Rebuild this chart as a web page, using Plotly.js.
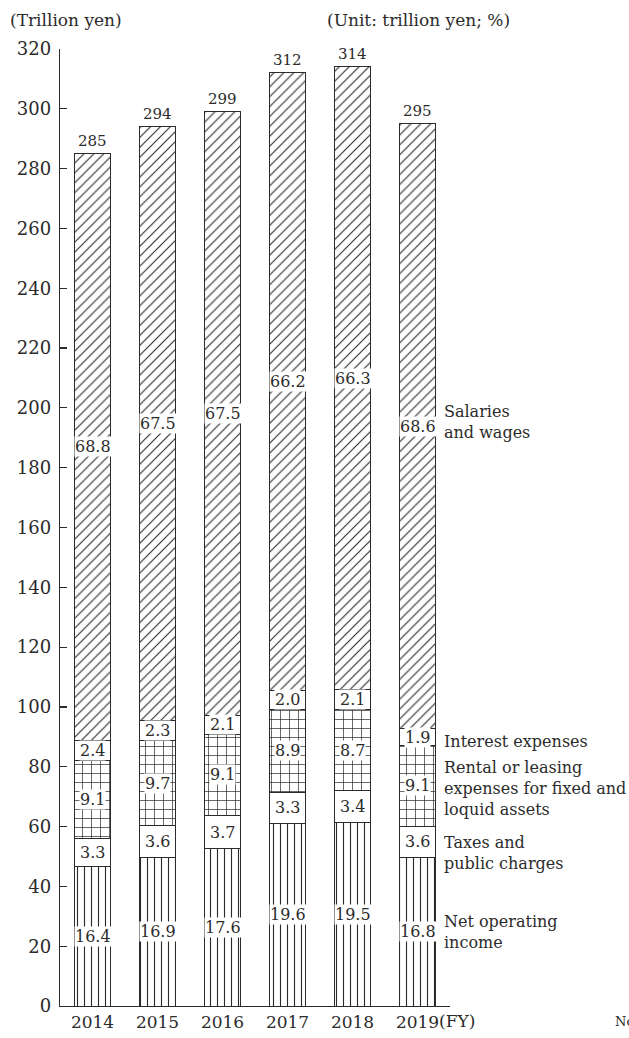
<!DOCTYPE html>
<html>
<head>
<meta charset="utf-8">
<script src="https://cdn.plot.ly/plotly-3.0.1.min.js"></script>
<style>
  html, body { margin: 0; padding: 0; background: #fff; }
  #chart { width: 629px; height: 1038px; }
</style>
</head>
<body>
<div id="chart"></div>
<script>
// ---- data (trillion yen totals; segment shares in %) ----
const years = ['2014', '2015', '2016', '2017', '2018', '2019'];
const yearLabels = ['2014', '2015', '2016', '2017', '2018', '2019'];
const totals = [285, 294, 299, 312, 314, 295];
const netOperatingIncome = [16.4, 16.9, 17.6, 19.6, 19.5, 16.8];
const taxesAndPublicCharges = [3.3, 3.6, 3.7, 3.3, 3.4, 3.6];
const rentalLeasing = [9.1, 9.7, 9.1, 8.9, 8.7, 9.1];
const interestExpenses = [2.4, 2.3, 2.1, 2.0, 2.1, 1.9];
const salariesAndWages = [68.8, 67.5, 67.5, 66.2, 66.3, 68.6];
const seriesNames = ['Net operating<br>income', 'Taxes and<br>public charges',
  'Rental or leasing<br>expenses for fixed and<br>loquid assets', 'Interest expenses',
  'Salaries<br>and wages'];

const shares = [netOperatingIncome, taxesAndPublicCharges, rentalLeasing, interestExpenses, salariesAndWages];

// ---- styling ----
const FONT = 'DejaVu Serif, Liberation Serif, serif';
const INK = '#2b2b2b';
const patterns = [
  {shape: '|', size: 7, solidity: 0.16},
  {shape: '', size: 8, solidity: 0.1},
  {shape: '+', size: 9, solidity: 0.15},
  {shape: '', size: 8, solidity: 0.1},
  {shape: '/', size: 7, solidity: 0.16}
];

// segment heights in trillion yen = total x share
const heights = shares.map(s => s.map((p, i) => totals[i] * p / 100));

const traces = heights.map((h, k) => ({
  type: 'bar',
  x: years,
  y: h,
  name: seriesNames[k],
  width: 0.54,
  marker: {
    color: 'white',
    line: {color: INK, width: 1},
    pattern: Object.assign({fgcolor: INK, bgcolor: 'white', fillmode: 'replace'}, patterns[k])
  },
  hoverinfo: 'skip'
}));

const annotations = [];
// in-bar share labels (x given as category index)
const cum = years.map(() => 0);
heights.forEach((h, k) => {
  h.forEach((v, i) => {
    annotations.push({
      x: i, y: cum[i] + v / 2, xref: 'x', yref: 'y',
      text: shares[k][i].toFixed(1), showarrow: false,
      font: {family: FONT, size: 16, color: INK},
      bgcolor: 'white', borderpad: 0
    });
    cum[i] += v;
  });
});
// totals above bars
totals.forEach((t, i) => {
  annotations.push({
    x: i, y: t, xref: 'x', yref: 'y', yanchor: 'bottom',
    text: String(t), showarrow: false, yshift: 2,
    font: {family: FONT, size: 15, color: INK}
  });
});
// right-side series labels, aligned with the last bar's segments
const last = years.length - 1;
const sideShift = [0, -11, -3, -4, 4];
let c = 0;
heights.forEach((h, k) => {
  const mid = c + h[last] / 2;
  c += h[last];
  annotations.push({
    x: 1, xref: 'paper', xanchor: 'left', xshift: -8,
    y: mid, yref: 'y', yanchor: 'middle', yshift: sideShift[k],
    text: seriesNames[k], align: 'left', showarrow: false,
    font: {family: FONT, size: 16, color: INK}
  });
});
// header texts
annotations.push({
  x: -0.1333, y: 1.0303, xref: 'paper', yref: 'paper', xanchor: 'left', yanchor: 'middle',
  text: '(Trillion yen)', showarrow: false, font: {family: FONT, size: 17, color: INK}
});
annotations.push({
  x: 0.6795, y: 1.0303, xref: 'paper', yref: 'paper', xanchor: 'left', yanchor: 'middle',
  text: '(Unit: trillion yen; %)', showarrow: false, font: {family: FONT, size: 17, color: INK}
});
// (FY) suffix after last tick label
annotations.push({
  x: last, xref: 'x', xanchor: 'left', xshift: 19,
  y: 0, yref: 'paper', yanchor: 'top', yshift: -3,
  text: '(FY)', showarrow: false, font: {family: FONT, size: 17, color: INK}
});
// note at bottom right (cut by the page edge, as in the source)
annotations.push({
  x: 1.418, y: -0.0167, xref: 'paper', yref: 'paper', xanchor: 'left', yanchor: 'middle',
  text: 'Note:', showarrow: false, font: {family: FONT, size: 13, color: INK}
});

const layout = {
  width: 629, height: 1038,
  margin: {l: 60, r: 179, t: 49, b: 32, pad: 0},
  paper_bgcolor: 'white', plot_bgcolor: 'white',
  barmode: 'stack',
  showlegend: false,
  font: {family: FONT, color: INK},
  xaxis: {
    type: 'category', range: [-0.5, 5.5],
    tickvals: years, ticktext: yearLabels,
    showline: true, linecolor: INK, linewidth: 1.2,
    ticks: '', showgrid: false, zeroline: false,
    tickfont: {family: FONT, size: 17, color: INK}
  },
  yaxis: {
    range: [0, 320], dtick: 20, tick0: 0,
    showline: true, linecolor: INK, linewidth: 1.2,
    ticks: 'inside', ticklen: 7, tickcolor: INK, tickwidth: 1.2,
    showgrid: false, zeroline: false,
    ticklabelstandoff: 4,
    tickfont: {family: FONT, size: 18, color: INK}
  },
  annotations: annotations
};

Plotly.newPlot('chart', traces, layout, {staticPlot: true, displayModeBar: false});
</script>
</body>
</html>
